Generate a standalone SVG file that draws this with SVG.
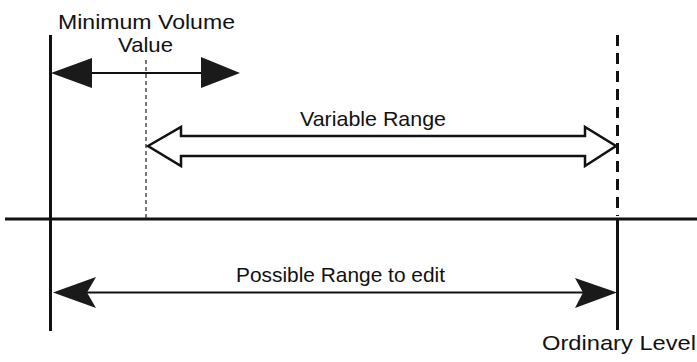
<svg xmlns="http://www.w3.org/2000/svg" width="697" height="362" viewBox="0 0 697 362">
<style>
.lbl{font-family:"Liberation Sans",Arial,sans-serif;font-size:21px;fill:#111}
.solid{stroke:#111;stroke-width:3;fill:none}
.shaft{stroke:#111;stroke-width:2;fill:none}
.head{fill:#1a1a1a;stroke:none}
</style>
<rect width="697" height="362" fill="#fff"/>
<g id="axes">
<line class="solid" x1="5" y1="219" x2="697" y2="219"/>
<line class="solid" x1="50.5" y1="35" x2="50.5" y2="331"/>
<line class="solid" x1="617.5" y1="219" x2="617.5" y2="330"/>
<line x1="617.5" y1="35" x2="617.5" y2="216" stroke="#111" stroke-width="3" stroke-dasharray="11 7"/>
<line x1="146" y1="60" x2="146" y2="219" stroke="#222" stroke-width="1.2" stroke-dasharray="4 3"/>
</g>
<g id="connectors">
<g id="min-arrow">
<line class="shaft" x1="80" y1="73" x2="215" y2="73"/>
<polygon class="head" points="51,73 92,58 92,88"/>
<polygon class="head" points="240,73 201,57 201,88"/>
</g>
<g id="variable-arrow">
<polygon points="148,146 181,127 181,136 585,136 585,127 616,146 585,166 585,156 181,156 181,166" fill="#fff" stroke="#111" stroke-width="2.5" stroke-linejoin="miter"/>
</g>
<g id="possible-arrow">
<line class="shaft" x1="85" y1="292.5" x2="590" y2="292.5"/>
<polygon class="head" points="53,292.5 96,277 87,292.5 96,308"/>
<polygon class="head" points="617,292.5 575,278 583,292.5 575,308"/>
</g>
</g>
<g id="label-minimum">
<text class="lbl" x="58" y="29" textLength="177" lengthAdjust="spacingAndGlyphs">Minimum Volume</text>
<text class="lbl" x="118" y="52" textLength="55" lengthAdjust="spacingAndGlyphs">Value</text>
</g>
<g id="label-variable">
<text class="lbl" x="300" y="126" textLength="146" lengthAdjust="spacingAndGlyphs">Variable Range</text>
</g>
<g id="label-possible">
<text class="lbl" x="236" y="282" textLength="209" lengthAdjust="spacingAndGlyphs">Possible Range to edit</text>
</g>
<g id="label-ordinary">
<text class="lbl" x="542" y="350" textLength="154" lengthAdjust="spacingAndGlyphs">Ordinary Level</text>
</g>
</svg>
